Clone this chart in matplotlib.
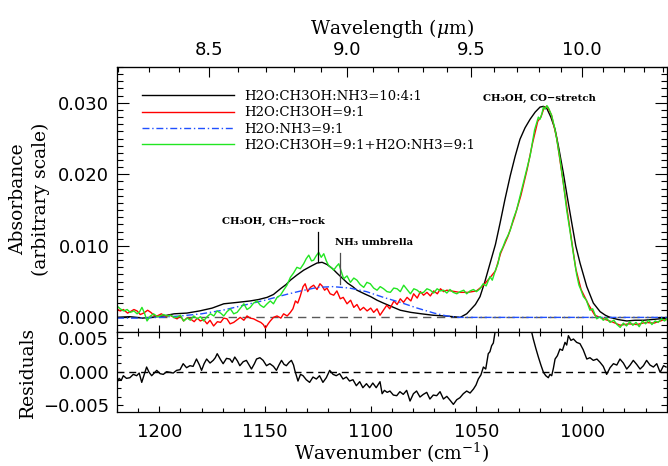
import numpy as np
import matplotlib
matplotlib.use("Agg")
import matplotlib.pyplot as plt
from matplotlib.ticker import MultipleLocator, FixedLocator

plt.rcParams['mathtext.fontset'] = 'dejavuserif'

# ---- data (wavenumber in cm^-1, absorbance) ----
black_wn = [1220, 1214, 1208, 1204, 1198, 1193, 1187, 1181, 1175, 1169.5, 1163, 1157, 1153,
            1149, 1146, 1142.7, 1140, 1138, 1135, 1131.7, 1128, 1125.4, 1123, 1120.7, 1118,
            1116, 1113.5, 1111, 1108.5, 1106.5, 1103, 1100, 1097, 1094, 1090, 1086, 1081,
            1076, 1070.5, 1065, 1061, 1057.7, 1054.6, 1053, 1050.5, 1048.3, 1046, 1043.6,
            1041, 1038.8, 1036.5, 1034, 1031.7, 1029.4, 1027, 1024.6, 1022.2, 1019.9, 1018.3,
            1016.7, 1014.8, 1012.8, 1011, 1008.9, 1007, 1004.9, 1003, 1001, 997.8, 994.7,
            991.5, 989, 986.8, 983, 978.9, 975, 971, 967, 963.3, 960]
black_abs = [0.0000, 0.0001, -0.0001, 0.0000, 0.0002, 0.0005, 0.0006, 0.0009, 0.0013, 0.0019,
             0.0021, 0.0023, 0.0025, 0.0028, 0.0032, 0.0040, 0.0046, 0.0052, 0.0059, 0.0066,
             0.0072, 0.0076, 0.0077, 0.0074, 0.0068, 0.0062, 0.0055, 0.0048, 0.0043, 0.0038,
             0.0033, 0.0029, 0.0024, 0.0020, 0.0015, 0.0010, 0.0007, 0.0005, 0.0003, 0.0002,
             0.0001, 0.0000, 0.0005, 0.0010, 0.0018, 0.0029, 0.0050, 0.0075, 0.0102, 0.0132,
             0.0165, 0.0198, 0.0225, 0.0249, 0.0265, 0.0277, 0.0287, 0.0294, 0.0295, 0.0292,
             0.0280, 0.0263, 0.0236, 0.0202, 0.0168, 0.0132, 0.0100, 0.0076, 0.0043, 0.0020,
             0.0008, 0.0003, 0.0000, -0.0003, -0.0005, -0.0004, -0.0004, -0.0003, -0.0002,
             -0.0001]

red_wn = [1220, 1218.5, 1217, 1215, 1213.7, 1212, 1210.5, 1209, 1207.4, 1205.5, 1204, 1202.5,
          1201, 1199, 1197, 1195, 1193, 1191.6, 1190, 1188.5, 1187, 1185.3, 1183.5, 1182,
          1180.6, 1179, 1177.4, 1176, 1174.3, 1172.5, 1171, 1169.5, 1168, 1166.5, 1164.8,
          1163, 1161.7, 1160, 1158.5, 1157, 1155.4, 1153.5, 1152, 1150.8, 1149.8, 1148.5,
          1147.5, 1146, 1144.3, 1142.5, 1141.2, 1139.5, 1138, 1136.8, 1135.6, 1134.5, 1133.3,
          1132, 1131, 1129.8, 1128.5, 1127, 1125.4, 1124, 1123, 1121.8, 1120.7, 1119.2,
          1117.5, 1116, 1114.4, 1113, 1111.2, 1109.5, 1108, 1106.5, 1105, 1103.4, 1101.7,
          1100, 1098.6, 1097, 1095.6, 1094, 1092.4, 1091, 1089, 1087.5, 1086, 1084.5, 1082.8,
          1081, 1079.7, 1078, 1076.5, 1075, 1073.4, 1071.8, 1070.2, 1068.5, 1067, 1065.5,
          1064, 1062, 1058, 1054, 1050, 1047, 1044, 1041, 1038.5, 1035, 1032, 1029, 1026,
          1023.5, 1021, 1019.5, 1018, 1016.5, 1014.5, 1012, 1009, 1006, 1003, 1000.5, 997,
          994, 990, 986, 982, 978, 974, 970, 966, 962, 960]
red_abs = [0.0012, 0.0009, 0.0011, 0.0006, 0.0008, 0.0011, 0.0009, 0.0004, 0.0006, 0.0010,
           0.0007, 0.0003, 0.0002, 0.0005, 0.0001, 0.0003, 0.0000, -0.0002, 0.0002, -0.0005,
           -0.0001, -0.0002, -0.0006, -0.0001, -0.0005, -0.0003, -0.0009, -0.0004, -0.0012,
           -0.0006, -0.0007, -0.0001, -0.0002, -0.0009, -0.0007, -0.0003, 0.0000, -0.0004,
           0.0002, -0.0001, -0.0002, -0.0005, -0.0007, -0.0010, -0.0015, -0.0009, -0.0005,
           0.0000, 0.0002, -0.0001, 0.0005, 0.0002, 0.0007, 0.0012, 0.0023, 0.0020, 0.0030,
           0.0043, 0.0047, 0.0036, 0.0042, 0.0045, 0.0039, 0.0047, 0.0044, 0.0038, 0.0041,
           0.0033, 0.0031, 0.0037, 0.0026, 0.0028, 0.0019, 0.0024, 0.0014, 0.0018, 0.0010,
           0.0014, 0.0009, 0.0013, 0.0007, 0.0012, 0.0003, 0.0010, 0.0017, 0.0012, 0.0023,
           0.0018, 0.0026, 0.0021, 0.0028, 0.0023, 0.0033, 0.0027, 0.0036, 0.0031, 0.0035,
           0.0030, 0.0037, 0.0033, 0.0040, 0.0036, 0.0038, 0.0037, 0.0035, 0.0035, 0.0037,
           0.0044, 0.0054, 0.0065, 0.0090, 0.0114, 0.0140, 0.0170, 0.0207, 0.0243, 0.0274,
           0.0280, 0.0293, 0.0295, 0.0283, 0.0250, 0.0190, 0.0128, 0.0068, 0.0039, 0.0018,
           0.0003, -0.0002, -0.0006, -0.0011, -0.0009, -0.0010, -0.0007, -0.0008, -0.0004,
           -0.0003]

blue_wn = [1220, 1210, 1200, 1190, 1180, 1170, 1160, 1150, 1140, 1133, 1125, 1118, 1110,
           1102, 1094, 1086, 1078, 1070, 1064, 1058, 1040, 1000, 960]
blue_abs = [-0.0001, -0.0001, 0.0000, 0.0002, 0.0005, 0.0010, 0.0017, 0.0024, 0.0032, 0.0037,
            0.0042, 0.0043, 0.0041, 0.0036, 0.0028, 0.0021, 0.0013, 0.0006, 0.0002, 0.0000,
            0.0000, 0.0000, 0.0000]

green_wn = [1220, 1218.5, 1216.8, 1215.2, 1213.7, 1212, 1210.5, 1209.3, 1208.2, 1207, 1205.8,
            1204.2, 1202.7, 1201, 1199.5, 1198, 1196.3, 1194.5, 1193, 1191.6, 1190, 1188.5,
            1186.8, 1185.3, 1183.7, 1182, 1180.5, 1179, 1177.4, 1175.8, 1174.2, 1172.7, 1171,
            1169.5, 1168, 1166.4, 1164.8, 1163.2, 1161.6, 1160, 1158.5, 1157, 1155.4, 1153.8,
            1152.2, 1150.6, 1149, 1147.5, 1146, 1144.3, 1142.7, 1141.2, 1139.6, 1138, 1136.5,
            1134.9, 1133.3, 1131.7, 1130.5, 1129.3, 1128, 1127, 1125.8, 1124.6, 1123.4, 1122.2,
            1121, 1120, 1118.8, 1117.5, 1116.3, 1115.1, 1114, 1112.8, 1111.2, 1109.6, 1108,
            1106.5, 1105, 1103.3, 1101.8, 1100.2, 1098.6, 1097, 1095.5, 1093.9, 1092.3,
            1090.7, 1089.1, 1087.5, 1086, 1084.4, 1082.8, 1081.2, 1079.6, 1078, 1076.5, 1075,
            1073.4, 1071.8, 1070.2, 1068.6, 1067, 1065.5, 1064, 1062.5, 1061, 1059.3, 1057.7,
            1056, 1054.6, 1053, 1051.4, 1050, 1048.3, 1046.8, 1045.4, 1043.6, 1042.5, 1041,
            1039.8, 1038.8, 1037.5, 1036.2, 1035, 1034, 1032.5, 1031, 1029.4, 1028, 1026.5,
            1025.3, 1024.6, 1023.5, 1022.5, 1021.4, 1020.7, 1019.9, 1019, 1018.3, 1017.5,
            1016.7, 1015.8, 1014.4, 1013, 1012, 1010.5, 1008.9, 1007.3, 1005.7, 1004.2,
            1002.6, 1001.5, 1000.5, 999.4, 998, 996.3, 995, 993.1, 991.5, 990, 988.5, 986.8,
            985, 983.5, 982, 980.5, 979, 977.5, 976, 974.5, 973, 971.5, 970, 968.5, 967,
            965.5, 964, 962.5, 961, 960]
green_abs = [0.0016, 0.0012, 0.0009, 0.0011, 0.0007, 0.0009, 0.0005, 0.0008, 0.0014, 0.0006,
             -0.0005, 0.0002, 0.0005, 0.0001, 0.0002, 0.0004, 0.0002, 0.0003, 0.0000, 0.0000,
             0.0003, -0.0005, -0.0001, -0.0004, 0.0002, -0.0002, 0.0001, -0.0005, 0.0001,
             0.0005, 0.0002, 0.0009, 0.0006, 0.0002, 0.0008, 0.0012, 0.0005, 0.0007, 0.0013,
             0.0019, 0.0011, 0.0014, 0.0020, 0.0023, 0.0017, 0.0014, 0.0019, 0.0023, 0.0019,
             0.0028, 0.0031, 0.0038, 0.0045, 0.0056, 0.0062, 0.0070, 0.0068, 0.0075, 0.0082,
             0.0087, 0.0079, 0.0080, 0.0086, 0.0091, 0.0084, 0.0089, 0.0079, 0.0073, 0.0070,
             0.0066, 0.0071, 0.0075, 0.0065, 0.0054, 0.0058, 0.0049, 0.0055, 0.0052, 0.0046,
             0.0042, 0.0049, 0.0047, 0.0041, 0.0038, 0.0043, 0.0040, 0.0036, 0.0035, 0.0041,
             0.0040, 0.0036, 0.0045, 0.0039, 0.0033, 0.0040, 0.0038, 0.0034, 0.0035, 0.0040,
             0.0038, 0.0034, 0.0040, 0.0037, 0.0038, 0.0034, 0.0039, 0.0035, 0.0033, 0.0036,
             0.0038, 0.0033, 0.0037, 0.0039, 0.0036, 0.0040, 0.0047, 0.0044, 0.0057, 0.0052,
             0.0066, 0.0075, 0.0090, 0.0098, 0.0108, 0.0115, 0.0122, 0.0138, 0.0150, 0.0169,
             0.0185, 0.0203, 0.0218, 0.0226, 0.0245, 0.0262, 0.0273, 0.0280, 0.0277, 0.0285,
             0.0294, 0.0291, 0.0296, 0.0292, 0.0282, 0.0265, 0.0249, 0.0222, 0.0188, 0.0150,
             0.0120, 0.0090, 0.0060, 0.0045, 0.0038, 0.0029, 0.0024, 0.0010, 0.0012, -0.0002,
             0.0001, -0.0004, -0.0001, -0.0007, -0.0004, -0.0010, -0.0014, -0.0008, -0.0012,
             -0.0006, -0.0011, -0.0007, -0.0013, -0.0005, -0.0009, -0.0004, -0.0010, -0.0005,
             -0.0007, -0.0002, -0.0005, -0.0002]

resid_wn = [1220, 1219, 1218, 1217, 1215.5, 1213.9, 1212.3, 1210.7, 1209.5, 1208.3, 1207,
            1206, 1204.8, 1203.6, 1202.4, 1201.2, 1199.6, 1198.1, 1196.5, 1195, 1193.4,
            1191.8, 1190.2, 1188.7, 1187.1, 1185.5, 1184, 1182.4, 1181, 1180, 1178.8, 1177.6,
            1176, 1174.5, 1173.5, 1172.6, 1171, 1169.8, 1168.2, 1166.6, 1165.5, 1164.3, 1163,
            1161.9, 1160.3, 1158.8, 1157.5, 1156.4, 1155, 1154, 1152.4, 1150.9, 1149.3,
            1147.7, 1146, 1144.6, 1143.4, 1142.2, 1141, 1139.9, 1138.6, 1137.5, 1136.5,
            1135.9, 1134.4, 1133.2, 1132, 1130.5, 1128.9, 1127.3, 1125.7, 1124.2, 1122.6,
            1121, 1119.4, 1117.8, 1116.3, 1114.7, 1113.1, 1111.5, 1110, 1108.4, 1106.8,
            1105.2, 1103.7, 1102, 1100.5, 1099, 1097.4, 1095.6, 1094.6, 1093.5, 1092.2,
            1090.9, 1089.3, 1087.7, 1086.2, 1084.6, 1083, 1081.4, 1079.8, 1078.3, 1076.7,
            1075.1, 1073.5, 1072, 1070.4, 1068.8, 1067.2, 1065.6, 1064, 1062.4, 1060.9,
            1059.3, 1057.8, 1056.2, 1054.6, 1053, 1051.4, 1050.2, 1049.1, 1047.9, 1046.7,
            1045.6, 1044.4, 1043.6, 1042.8, 1042, 1041.2, 1040.4, 1038, 1035, 1032, 1029,
            1026, 1024.5, 1023.1, 1021.9, 1020.7, 1019.5, 1018.3, 1017.2, 1016, 1015.2,
            1014.4, 1013.6, 1012.8, 1011.7, 1010.5, 1009.3, 1008.1, 1007.3, 1006.5, 1005.3,
            1004.1, 1002.6, 1001, 999.5, 997.8, 996.3, 994.7, 993, 991.5, 990, 988.4, 986.8,
            985.2, 983.6, 982.1, 980.5, 978.9, 977.3, 975.8, 974.2, 972.6, 971, 969.5, 967.9,
            966.3, 964.7, 963.1, 961.5, 960.3]
resid = [-0.0016, -0.0010, -0.0013, -0.0006, -0.0010, -0.0009, -0.0004, -0.0006, -0.0002,
         -0.0016, -0.0003, 0.0007, -0.0001, -0.0006, -0.0002, 0.0002, -0.0003, -0.0004,
         0.0000, -0.0001, -0.0002, 0.0002, 0.0003, 0.0012, 0.0006, 0.0009, 0.0008, 0.0019,
         0.0010, 0.0002, 0.0012, 0.0019, 0.0013, 0.0017, 0.0021, 0.0027, 0.0018, 0.0012,
         0.0020, 0.0019, 0.0014, 0.0022, 0.0016, 0.0009, 0.0015, 0.0017, 0.0010, 0.0004,
         0.0012, 0.0019, 0.0021, 0.0017, 0.0009, 0.0012, 0.0008, 0.0002, 0.0010, 0.0017,
         0.0011, 0.0009, 0.0014, 0.0017, 0.0010, 0.0002, -0.0014, -0.0004, -0.0006, -0.0012,
         -0.0016, -0.0008, -0.0011, -0.0006, -0.0016, -0.0009, 0.0002, -0.0004, -0.0006,
         -0.0003, -0.0011, -0.0008, -0.0014, -0.0012, -0.0021, -0.0015, -0.0024, -0.0018,
         -0.0024, -0.0017, -0.0024, -0.0015, -0.0033, -0.0028, -0.0031, -0.0029, -0.0035,
         -0.0036, -0.0030, -0.0034, -0.0028, -0.0044, -0.0033, -0.0029, -0.0038, -0.0034,
         -0.0031, -0.0041, -0.0035, -0.0036, -0.0030, -0.0041, -0.0037, -0.0043, -0.0049,
         -0.0042, -0.0039, -0.0033, -0.0029, -0.0032, -0.0026, -0.0020, -0.0011, -0.0005,
         0.0007, 0.0004, 0.0027, 0.0030, 0.0039, 0.0043, 0.0059, 0.0069, 0.0080, 0.0090,
         0.0095, 0.0085, 0.0075, 0.0068, 0.0049, 0.0035, 0.0022, 0.0010, -0.0001, -0.0006,
         -0.0009, -0.0004, -0.0006, 0.0005, 0.0019, 0.0024, 0.0034, 0.0032, 0.0044, 0.0040,
         0.0054, 0.0047, 0.0049, 0.0044, 0.0042, 0.0033, 0.0019, 0.0021, 0.0017, 0.0019,
         0.0014, 0.0008, -0.0004, 0.0006, 0.0012, 0.0010, 0.0019, 0.0013, 0.0004, 0.0010,
         0.0017, 0.0011, 0.0004, 0.0009, 0.0017, 0.0010, 0.0007, 0.0012, -0.0001, 0.0009,
         0.0007]

labels = ["H2O:CH3OH:NH3=10:4:1", "H2O:CH3OH=9:1", "H2O:NH3=9:1",
          "H2O:CH3OH=9:1+H2O:NH3=9:1"]
wl_ticks = [8.5, 9.0, 9.5, 10.0]
wn_ticks = [1200, 1150, 1100, 1050, 1000]

serif = 'DejaVu Serif'
tick_fs = 13

fig = plt.figure(figsize=(6.68, 4.66), dpi=100)
W, H = 668.0, 466.0
x0, x1 = 117, 666.7
ax = fig.add_axes([x0 / W, 1 - 331.7 / H, (x1 - x0) / W, (331.7 - 67) / H])
axr = fig.add_axes([x0 / W, 1 - 411.7 / H, (x1 - x0) / W, 80 / H])

ax.plot(black_wn, black_abs, color='black', lw=1.0, label=labels[0])
ax.plot(red_wn, red_abs, color='red', lw=1.0, label=labels[1])
ax.plot(blue_wn, blue_abs, color='#2050ff', lw=1.0, ls=(0, (5, 2, 1, 2)), label=labels[2])
ax.plot(green_wn, green_abs, color='#22e622', lw=1.0, label=labels[3])
ax.axhline(0, color='0.35', lw=1.0, ls=(0, (6, 4)), zorder=0)

ax.set_xlim(1220, 960)
ax.set_ylim(-0.002, 0.035)
ax.yaxis.set_major_locator(FixedLocator([0.0, 0.01, 0.02, 0.03]))
ax.yaxis.set_minor_locator(MultipleLocator(0.001))
ax.set_yticklabels(['0.000', '0.010', '0.020', '0.030'])
ax.xaxis.set_major_locator(FixedLocator(wn_ticks))
ax.xaxis.set_minor_locator(MultipleLocator(10))
ax.tick_params(axis='y', which='both', direction='in', left=True, right=True,
               labelsize=tick_fs, pad=5.5)
ax.tick_params(axis='y', which='major', length=8.6, width=0.8)
ax.tick_params(axis='y', which='minor', length=4.3, width=0.8)
ax.tick_params(axis='x', which='both', direction='in', top=False, bottom=True,
               labelbottom=False)
ax.tick_params(axis='x', which='major', length=4.8, width=0.8)
ax.tick_params(axis='x', which='minor', length=2.9, width=0.8)


def to_wl(x):
    x = np.asarray(x, dtype=float)
    return 1e4 / np.where(x == 0, np.inf, x)


secax = ax.secondary_xaxis('top', functions=(to_wl, to_wl))
secax.xaxis.set_major_locator(FixedLocator(wl_ticks))
secax.xaxis.set_minor_locator(FixedLocator(np.round(np.arange(8.2, 10.45, 0.1), 1)))
secax.set_xticklabels(['8.5', '9.0', '9.5', '10.0'])
secax.tick_params(which='both', direction='in', labelsize=tick_fs, pad=5.5)
secax.tick_params(which='major', length=7.2, width=0.8)
secax.tick_params(which='minor', length=3.6, width=0.8)
secax.set_xlabel(r'Wavelength ($\mu$m)', family=serif, fontsize=13.5, labelpad=5)

leg = ax.legend(loc='upper left', bbox_to_anchor=(0.045, 0.913), frameon=False,
                prop={'family': serif, 'size': 9.5}, handlelength=7.0,
                handletextpad=0.8, labelspacing=0.25, borderpad=0, borderaxespad=0)

ann = dict(family=serif, fontweight='bold', fontsize=7.3)
ax.text(1146, 0.0134, 'CH\u2083OH, CH\u2083\u2212rock', ha='center', va='center', **ann)
ax.plot([1124.8, 1124.8], [0.0078, 0.0120], color='black', lw=0.9)
ax.text(1117, 0.0104, 'NH\u2083 umbrella', ha='left', va='center', **ann)
ax.plot([1114.5, 1114.5], [0.0047, 0.0090], color='0.3', lw=0.9)
ax.text(1020, 0.0306, 'CH\u2083OH, CO\u2212stretch', ha='center', va='center', **ann)

# residual panel
axr.plot(resid_wn, resid, color='black', lw=1.0)
axr.axhline(0, color='black', lw=1.0, ls=(0, (5, 3.5)), zorder=0)
axr.set_xlim(1220, 960)
axr.set_ylim(-0.006, 0.006)
axr.yaxis.set_major_locator(FixedLocator([-0.005, 0.0, 0.005]))
axr.yaxis.set_minor_locator(MultipleLocator(0.00125))
axr.set_yticklabels(['\u22120.005', '0.000', '0.005'])
axr.xaxis.set_major_locator(FixedLocator(wn_ticks))
axr.xaxis.set_minor_locator(MultipleLocator(10))
axr.tick_params(axis='both', which='both', direction='in', top=True, right=True,
                labelsize=tick_fs)
axr.tick_params(axis='y', pad=5.5)
axr.tick_params(axis='x', pad=8)
axr.tick_params(which='major', length=4.3, width=0.8)
axr.tick_params(which='minor', length=3.0, width=0.8)
axr.set_xlabel(r'Wavenumber (cm$^{-1}$)', family=serif, fontsize=13.5, labelpad=0)

fig.text(18 / W, 1 - 199 / H, 'Absorbance', rotation=90, ha='center', va='center',
         family=serif, fontsize=13.5)
fig.text(41 / W, 1 - 199 / H, '(arbitrary scale)', rotation=90, ha='center', va='center',
         family=serif, fontsize=13.5)
fig.text(28 / W, 1 - 372 / H, 'Residuals', rotation=90, ha='center', va='center',
         family=serif, fontsize=13.5)

for a in (ax, axr):
    for s in a.spines.values():
        s.set_linewidth(0.9)

fig.savefig('out.png', dpi=100)
